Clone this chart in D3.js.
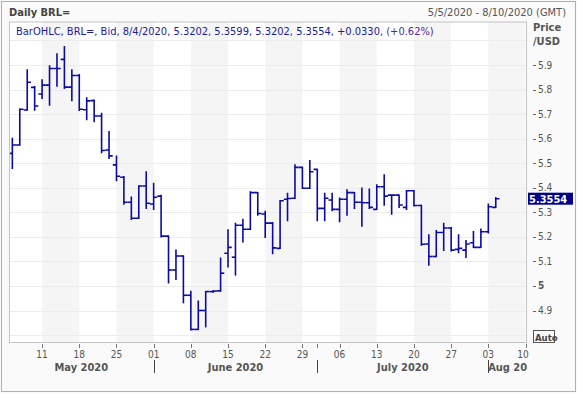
<!DOCTYPE html>
<html>
<head>
<meta charset="utf-8">
<script src="https://cdn.jsdelivr.net/npm/d3@7"></script>
<style>
body { margin: 0; background: #fafafa; }
text { font-family: Tahoma, "DejaVu Sans Condensed", "Liberation Sans", sans-serif; }
</style>
</head>
<body>
<svg id="chart" width="577" height="394"></svg>
<script>
// daily BRL= bars, 5/5/2020 .. 8/4/2020
const dates = ["2020-05-05","2020-05-06","2020-05-07","2020-05-08",
  "2020-05-11","2020-05-12","2020-05-13","2020-05-14","2020-05-15",
  "2020-05-18","2020-05-19","2020-05-20","2020-05-21","2020-05-22",
  "2020-05-25","2020-05-26","2020-05-27","2020-05-28","2020-05-29",
  "2020-06-01","2020-06-02","2020-06-03","2020-06-04","2020-06-05",
  "2020-06-08","2020-06-09","2020-06-10","2020-06-11","2020-06-12",
  "2020-06-15","2020-06-16","2020-06-17","2020-06-18","2020-06-19",
  "2020-06-22","2020-06-23","2020-06-24","2020-06-25","2020-06-26",
  "2020-06-29","2020-06-30","2020-07-01","2020-07-02","2020-07-03",
  "2020-07-06","2020-07-07","2020-07-08","2020-07-09","2020-07-10",
  "2020-07-13","2020-07-14","2020-07-15","2020-07-16","2020-07-17",
  "2020-07-20","2020-07-21","2020-07-22","2020-07-23","2020-07-24",
  "2020-07-27","2020-07-28","2020-07-29","2020-07-30","2020-07-31",
  "2020-08-03","2020-08-04"];
const open  = [5.540,5.574,5.717,5.809, 5.782,5.818,5.886,5.923,5.810, 5.857,5.718,5.755,5.692,5.554,
  5.493,5.443,5.341,5.276,5.407, 5.334,5.366,5.203,5.065,5.122, 4.962,4.823,4.900,4.977,4.980,
  5.133,5.117,5.247,5.231,5.380, 5.293,5.256,5.153,5.353,5.357, 5.483,5.398,5.475,5.316,5.350,
  5.312,5.353,5.380,5.341,5.339, 5.312,5.404,5.370,5.370,5.320, 5.388,5.328,5.171,5.120,5.218,
  5.236,5.149,5.146,5.176,5.157, 5.221,5.3202];
const high  = [5.601,5.720,5.880,5.812, 5.839,5.896,5.945,5.975,5.880, 5.860,5.766,5.757,5.703,5.628,
  5.529,5.445,5.361,5.407,5.464, 5.418,5.369,5.203,5.146,5.122, 4.978,4.938,4.977,4.980,5.113,
  5.228,5.255,5.271,5.383,5.380, 5.303,5.258,5.347,5.377,5.493, 5.483,5.510,5.475,5.377,5.377,
  5.357,5.391,5.380,5.398,5.394, 5.411,5.452,5.370,5.370,5.388, 5.388,5.328,5.208,5.225,5.255,
  5.237,5.208,5.184,5.221,5.231, 5.333,5.3599];
const low   = [5.479,5.574,5.717,5.717, 5.764,5.737,5.814,5.805,5.755, 5.715,5.678,5.670,5.543,5.520,
  5.429,5.334,5.271,5.276,5.316, 5.312,5.200,5.013,5.027,4.932, 4.821,4.823,4.834,4.975,4.979,
  5.078,5.045,5.180,5.231,5.289, 5.198,5.132,5.153,5.266,5.357, 5.398,5.398,5.266,5.266,5.307,
  5.262,5.289,5.316,5.244,5.316, 5.312,5.330,5.293,5.320,5.312, 5.326,5.167,5.085,5.120,5.145,
  5.143,5.136,5.117,5.157,5.157, 5.217,5.3202];
const close = [5.574,5.720,5.830,5.733, 5.818,5.886,5.886,5.810,5.857, 5.720,5.754,5.692,5.552,5.530,
  5.447,5.341,5.276,5.407,5.337, 5.361,5.203,5.065,5.122,4.962, 4.823,4.900,4.977,4.979,5.052,
  5.157,5.247,5.231,5.380,5.295, 5.256,5.155,5.347,5.356,5.483, 5.398,5.465,5.316,5.357,5.312,
  5.353,5.380,5.341,5.339,5.320, 5.404,5.366,5.370,5.330,5.388, 5.328,5.170,5.120,5.218,5.236,
  5.146,5.153,5.171,5.157,5.221, 5.3224,5.3554];

const weekTicks = ["2020-05-11","2020-05-18","2020-05-25","2020-06-01","2020-06-08","2020-06-15","2020-06-22",
  "2020-06-29","2020-07-06","2020-07-13","2020-07-20","2020-07-27","2020-08-03","2020-08-10"];
const shadedWeeks = ["2020-05-11","2020-05-25","2020-06-08","2020-06-22","2020-07-06","2020-07-20","2020-08-03"];
const monthStarts = ["2020-05-05","2020-06-01","2020-07-01","2020-08-03","2020-08-11"];
const monthLabels = ["May 2020","June 2020","July 2020","Aug 20"];
const priceTicks = [4.9,5.0,5.1,5.2,5.3,5.4,5.5,5.6,5.7,5.8,5.9];
const gridValues = [4.8,4.9,5.0,5.1,5.2,5.3,5.4,5.5,5.6,5.7,5.8,5.9,6.0];

let plotLeft = 9, plotRight = 527, plotTop = 21.5, plotBottom = 343;
let barColor = "#0a0aa6";

// weekday count since the first bar (weekends are not on the axis)
let startDay = Date.UTC(2020,4,5);
function dayIndex(s){
    let t = Date.parse(s+"T00:00:00Z");
    let n = 0;
    for(let u=startDay; u<t; u+=86400000){
        let w = new Date(u).getUTCDay();
        if(w!==0 && w!==6) n++;
    }
    return n;
}

let x = d3.scaleLinear().domain([-0.45,69.2]).range([plotLeft,plotRight]);
let y = d3.scaleLinear().domain([4.9,5.9]).range([310.5,65]);

let svg = d3.select("#chart");

svg.append("rect").attr("x",1.5).attr("y",1.5).attr("width",574).attr("height",390)
    .attr("fill","#fafafa").attr("stroke","#b0b0b0");

svg.append("defs").append("clipPath").attr("id","plotclip")
    .append("rect").attr("x",plotLeft).attr("y",plotTop).attr("width",plotRight-plotLeft).attr("height",plotBottom-plotTop);

svg.append("rect").attr("x",plotLeft).attr("y",plotTop).attr("width",plotRight-plotLeft).attr("height",plotBottom-plotTop)
    .attr("fill","#ffffff");

let plot = svg.append("g").attr("clip-path","url(#plotclip)");

plot.append("g").selectAll("rect")
    .data(shadedWeeks)
    .enter()
    .append("rect")
    .attr("x", function(d){ return x(dayIndex(d)) })
    .attr("y", plotTop)
    .attr("width", function(d){ return x(dayIndex(d)+5)-x(dayIndex(d)) })
    .attr("height", plotBottom-plotTop)
    .attr("fill","#f5f5f5")

plot.append("g").selectAll("line")
    .data(gridValues)
    .enter()
    .append("line")
    .attr("x1", plotLeft).attr("x2", plotRight)
    .attr("y1", function(d){ return Math.round(y(d))+0.5 })
    .attr("y2", function(d){ return Math.round(y(d))+0.5 })
    .attr("stroke","#ececec")

// OHLC bars
let bars = plot.append("g").selectAll("g")
    .data(dates)
    .enter()
    .append("g")
    .attr("stroke", barColor)
    .attr("stroke-width", 1.6)

bars.append("line")
    .attr("x1", function(d){ return x(dayIndex(d)) })
    .attr("x2", function(d){ return x(dayIndex(d)) })
    .attr("y1", function(d,i){ return y(high[i])-0.7 })
    .attr("y2", function(d,i){ return y(low[i])+0.7 })
bars.append("line")
    .attr("x1", function(d){ return x(dayIndex(d))-3.7 })
    .attr("x2", function(d){ return x(dayIndex(d)) })
    .attr("y1", function(d,i){ return y(open[i]) })
    .attr("y2", function(d,i){ return y(open[i]) })
bars.append("line")
    .attr("x1", function(d){ return x(dayIndex(d)) })
    .attr("x2", function(d){ return x(dayIndex(d))+3.7 })
    .attr("y1", function(d,i){ return y(close[i]) })
    .attr("y2", function(d,i){ return y(close[i]) })

svg.append("rect").attr("x",plotLeft+0.5).attr("y",plotTop+0.5).attr("width",plotRight-plotLeft-1).attr("height",plotBottom-plotTop-1)
    .attr("fill","none").attr("stroke","#c4c4c4");

// header
svg.append("text").attr("x",9).attr("y",16).attr("font-size",11).attr("font-weight","bold")
    .attr("fill","#444").text("Daily BRL=");
svg.append("text").attr("x",566).attr("y",16).attr("font-size",11).attr("text-anchor","end")
    .attr("fill","#555").text("5/5/2020 - 8/10/2020 (GMT)");

let last = dates.length-1;
let change = close[last]-close[last-1];
let legend = svg.append("text").attr("x",16).attr("y",35).attr("font-size",11).attr("fill","#1c1ca0");
legend.append("tspan").text("BarOHLC, BRL=, Bid, 8/4/2020, " +
    [open[last],high[last],low[last],close[last]].map(function(v){ return v.toFixed(4) }).join(", ") +
    ", +" + change.toFixed(4) + ", ");
legend.append("tspan").attr("fill","#4a2aa8").text("(+" + (change/close[last-1]*100).toFixed(2) + "%)");

// right price axis
let yAxis = svg.append("g");
yAxis.selectAll("line")
    .data(priceTicks.concat([4.8]))
    .enter()
    .append("line")
    .attr("x1",533).attr("x2",536)
    .attr("y1", function(d){ return Math.round(y(d))+0.5 })
    .attr("y2", function(d){ return Math.round(y(d))+0.5 })
    .attr("stroke","#666")
yAxis.selectAll("text")
    .data(priceTicks)
    .enter()
    .append("text")
    .attr("x",538)
    .attr("y", function(d){ return y(d)+3.5 })
    .attr("font-size",10)
    .attr("font-weight", function(d){ return d===5 ? "bold" : "normal" })
    .attr("fill","#555")
    .text(function(d){ return d===5 ? "5" : d.toFixed(1) })

svg.append("text").attr("x",533).attr("y",31).attr("font-size",11).attr("font-weight","bold")
    .attr("fill","#555").text("Price");
svg.append("text").attr("x",533).attr("y",45).attr("font-size",11).attr("font-weight","bold")
    .attr("fill","#555").text("/USD");

svg.append("rect").attr("x",528).attr("y",y(close[last])-6).attr("width",45).attr("height",12)
    .attr("fill","#00008c");
svg.append("text").attr("x",529).attr("y",y(close[last])+4).attr("font-size",11).attr("font-weight","bold")
    .attr("fill","#ffffff").text(close[last].toFixed(4));

svg.append("rect").attr("x",533.5).attr("y",330.5).attr("width",21).attr("height",12)
    .attr("fill","#fafafa").attr("stroke","#555");
svg.append("text").attr("x",535).attr("y",340.5).attr("font-size",9.5).attr("font-weight","bold")
    .attr("fill","#444").text("Auto");

// bottom date axis
let xAxis = svg.append("g");
xAxis.selectAll("line.day")
    .data(weekTicks.concat(["2020-07-01"]))
    .enter()
    .append("line")
    .attr("x1", function(d){ return Math.round(x(dayIndex(d)))+0.5 })
    .attr("x2", function(d){ return Math.round(x(dayIndex(d)))+0.5 })
    .attr("y1",344).attr("y2",348)
    .attr("stroke","#777")
xAxis.selectAll("text.day")
    .data(weekTicks)
    .enter()
    .append("text")
    .attr("x", function(d){ return Math.min(x(dayIndex(d)), 523) })
    .attr("y",358)
    .attr("text-anchor","middle")
    .attr("font-size",10)
    .attr("fill","#555")
    .text(function(d){ return d.slice(8,10) })

xAxis.selectAll("line.month")
    .data(monthStarts.slice(1,4))
    .enter()
    .append("line")
    .attr("x1", function(d){ return Math.round(x(dayIndex(d)))+0.5 })
    .attr("x2", function(d){ return Math.round(x(dayIndex(d)))+0.5 })
    .attr("y1",360).attr("y2",373)
    .attr("stroke","#444")
xAxis.selectAll("text.month")
    .data(monthLabels)
    .enter()
    .append("text")
    .attr("x", function(d,i){
        let a = i===0 ? plotLeft : x(dayIndex(monthStarts[i]));
        let b = Math.min(x(dayIndex(monthStarts[i+1])), plotRight);
        return (a+b)/2 })
    .attr("y",371)
    .attr("text-anchor","middle")
    .attr("font-size",11)
    .attr("font-weight","bold")
    .attr("fill","#555")
    .text(function(d){ return d })
</script>
</body>
</html>
